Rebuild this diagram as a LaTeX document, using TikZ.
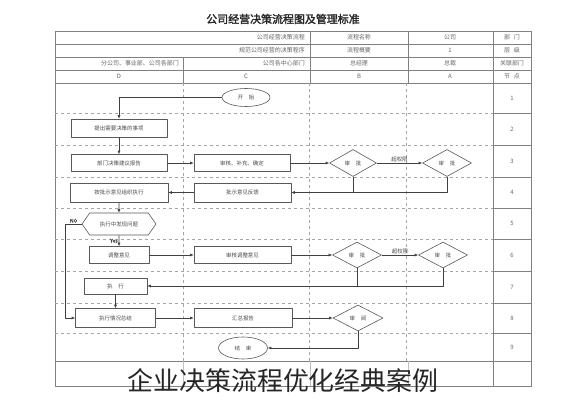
\documentclass[tikz,border=0pt]{standalone}
\usepackage{fontspec}
\setmainfont[AutoFakeBold=2]{Noto Sans CJK SC}
\usetikzlibrary{shapes.geometric,shapes.symbols,arrows.meta}

\begin{document}
\begin{tikzpicture}[>={Latex[length=3.5pt,width=3pt]},line join=bevel,
  every node/.style={font=\fontsize{5.5}{6}\selectfont,text=black!70,inner sep=1pt},
  procbox/.style={draw=black!65,line width=0.6pt,minimum height=17bp,inner sep=0pt},
  checkbox/.style={diamond,draw=black!65,line width=0.6pt,inner sep=0pt},
  termbox/.style={ellipse,draw=black!65,line width=0.6pt,inner sep=0pt},
  askbox/.style={signal,signal to=west and east,signal pointer angle=110,draw=black!65,line width=0.6pt,inner sep=0pt},
  flow/.style={black!75,line width=0.6pt,->},
  link/.style={black!75,line width=0.6pt},
  gridline/.style={black!35,dashed,line width=0.5pt},
  rule/.style={black!50,line width=0.6pt},
  headtext/.style={font=\fontsize{6}{7}\selectfont,text=black!60}]
%%
\fill [white] (0bp,0bp) rectangle (565bp,400bp);
\useasboundingbox (0bp,0bp) rectangle (565bp,400bp);
%% table
\draw [rule] (55bp,369bp) rectangle (531bp,14bp);
\foreach \y in {356,343,330,317,39}
  \draw [rule] (55bp,\y bp) -- (531bp,\y bp);
\foreach \x in {310,408,493}
  \draw [rule] (\x bp,369bp) -- (\x bp,317bp);
\draw [rule] (183bp,343bp) -- (183bp,317bp);
\draw [rule] (493bp,317bp) -- (493bp,14bp);
\foreach \y in {287,255,223,192,161,129,97,67} {
  \draw [gridline] (55bp,\y bp) -- (493bp,\y bp);
  \draw [rule] (493bp,\y bp) -- (531bp,\y bp);
}
\foreach \x in {183,309,406}
  \draw [gridline] (\x bp,317bp) -- (\x bp,39bp);
\foreach \x in {183,310,408}
  \draw [black!25,line width=0.5pt] (\x bp,39bp) -- (\x bp,14bp);
%% header
\node (title) at (283bp,381bp) [font=\fontsize{11}{12}\selectfont\bfseries,text=black!85] {公司经营决策流程图及管理标准};
\node (head_dept) at (512bp,362.5bp) [headtext] {部\hspace{4pt}门};
\node (head_co) at (450bp,362.5bp) [headtext] {公司};
\node (head_name) at (359bp,362.5bp) [headtext] {流程名称};
\node (head_namev) at (306bp,362.5bp) [headtext,anchor=east] {公司经营决策流程};
\node (head_level) at (512bp,349.5bp) [headtext] {层\hspace{4pt}级};
\node (head_one) at (450bp,349.5bp) [headtext] {1};
\node (head_sum) at (359bp,349.5bp) [headtext] {流程概要};
\node (head_sumv) at (306bp,349.5bp) [headtext,anchor=east] {规范公司经营的决策程序};
\node (head_rel) at (512bp,336.5bp) [headtext] {关联部门};
\node (head_ceo) at (450bp,336.5bp) [headtext] {总裁};
\node (head_gm) at (359bp,336.5bp) [headtext] {总经理};
\node (head_ctr) at (306bp,336.5bp) [headtext,anchor=east] {公司各中心部门};
\node (head_br) at (180bp,336.5bp) [headtext,anchor=east] {分公司、事业部、公司各部门};
\node (head_node) at (512bp,323.5bp) [headtext] {节\hspace{4pt}点};
\node (head_a) at (450bp,323.5bp) [headtext] {A};
\node (head_b) at (359bp,323.5bp) [headtext] {B};
\node (head_c) at (246bp,323.5bp) [headtext] {C};
\node (head_d) at (119bp,323.5bp) [headtext] {D};
\foreach \n/\y in {1/302,2/271,3/239,4/207.5,5/176.5,6/145,7/113,8/82,9/53}
  \node (row_\n) at (512bp,\y bp) [headtext] {\n};
%% steps
\node (start) at (246bp,302.5bp) [termbox,minimum width=48bp,minimum height=18bp] {开\hspace{6pt}始};
\node (d2) at (119bp,272bp) [procbox,minimum width=96bp,minimum height=18bp] {提出需要决策的事项};
\node (d3) at (119bp,237bp) [procbox,minimum width=96bp] {部门决策建议报告};
\node (c3) at (242bp,237bp) [procbox,minimum width=96bp] {审核、补充、确定};
\node (b3) at (353bp,237bp) [checkbox,minimum width=47bp,minimum height=27bp] {审\hspace{6pt}批};
\node (a3) at (447bp,237bp) [checkbox,minimum width=49bp,minimum height=27bp] {审\hspace{6pt}批};
\node (d4) at (119bp,207.5bp) [procbox,minimum width=98bp,minimum height=19bp] {按批示意见组织执行};
\node (c4) at (242.5bp,207.5bp) [procbox,minimum width=97bp,minimum height=19bp] {批示意见反馈};
\node (ask5) at (119bp,176bp) [askbox,minimum width=74bp,minimum height=22bp] {执行中发现问题};
\node (d6) at (119bp,145bp) [procbox,minimum width=60bp] {调整意见};
\node (c6) at (242.5bp,145bp) [procbox,minimum width=97bp] {审核调整意见};
\node (b6) at (357bp,145bp) [checkbox,minimum width=49bp,minimum height=26bp] {审\hspace{6pt}批};
\node (a6) at (443bp,145bp) [checkbox,minimum width=49bp,minimum height=26bp] {审\hspace{6pt}批};
\node (d7) at (115.5bp,114bp) [procbox,minimum width=63bp,minimum height=16bp] {执\hspace{6pt}行};
\node (d8) at (115.5bp,82bp) [procbox,minimum width=80bp,minimum height=19bp] {执行情况总结};
\node (c8) at (243bp,82bp) [procbox,minimum width=98bp,minimum height=19bp] {汇总报告};
\node (b8) at (358bp,82bp) [checkbox,minimum width=50bp,minimum height=26bp] {审\hspace{6pt}阅};
\node (stop) at (243bp,52bp) [termbox,minimum width=49bp,minimum height=22bp] {结\hspace{6pt}束};
%% connectors
\draw [flow] (start.west) -| (d2.north);
\draw [flow] (d2) -- (d3);
\draw [flow] (d3) -- (c3);
\draw [flow] (c3) -- (b3);
\draw [flow] (b3) -- node[above] {超权限} (a3);
\draw [link] (b3.south) -- (b3.south |- c4.east);
\draw [flow] (a3.south) |- (c4.east);
\draw [flow] (c4) -- (d4);
\draw [flow] (d4) -- (ask5);
\draw [flow] (ask5) -- node[left,font=\fontsize{5}{6}\selectfont\bfseries] {Yes} (d6);
\draw [flow] (ask5.west) -- node[above,font=\fontsize{5}{6}\selectfont\bfseries] {NO} ++(-16bp,0) |- (d8.west);
\draw [flow] (d6) -- (c6);
\draw [flow] (c6) -- (b6);
\draw [flow] (b6) -- node[above] {超权限} (a6);
\draw [link] (b6.south) -- (b6.south |- d7.east);
\draw [flow] (a6.south) |- (d7.east);
\draw [flow] (d7) -- (d8);
\draw [flow] (d8) -- (c8);
\draw [flow] (c8) -- (b8);
\draw [flow] (b8.south) |- (stop.east);
%% caption
\node (caption) at (283bp,19bp) [font=\fontsize{26}{26}\selectfont,text=black!85] {企业决策流程优化经典案例};
%
\end{tikzpicture}
\end{document}
